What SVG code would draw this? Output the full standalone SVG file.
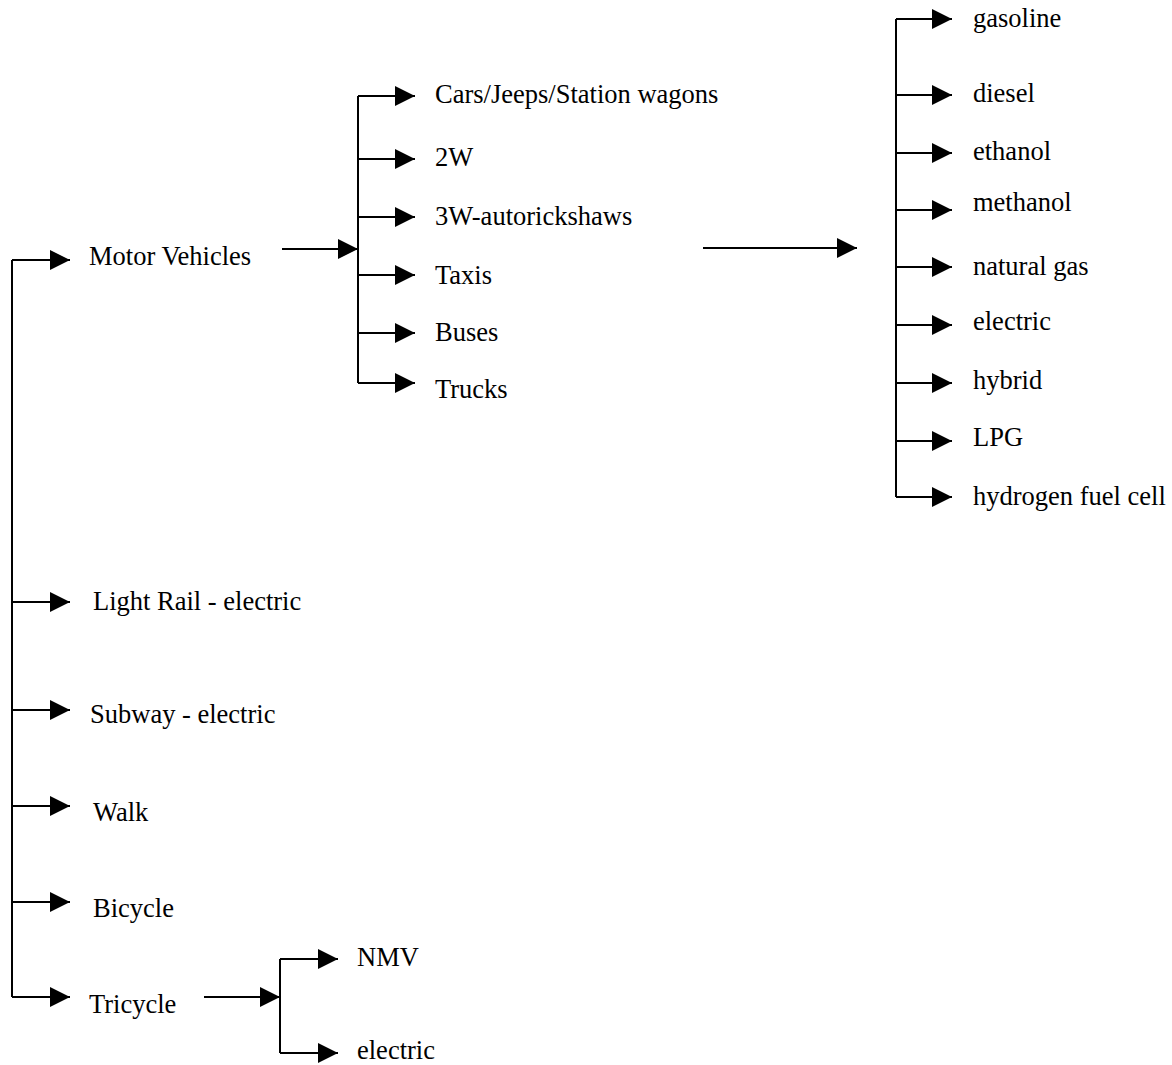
<svg xmlns="http://www.w3.org/2000/svg" width="1172" height="1065" viewBox="0 0 1172 1065">
<style>
.c{fill:none;stroke:#000;stroke-width:2}
.a{marker-end:url(#ah)}
text{font-family:"Liberation Serif","Times New Roman",serif;font-size:26.5px;fill:#000}
</style>
<defs>
<marker id="ah" viewBox="0 0 20 20" refX="20" refY="10" markerWidth="20" markerHeight="20" markerUnits="userSpaceOnUse" orient="auto">
<path d="M0,0 L20,10 L0,20 z" fill="#000"/>
</marker>
</defs>
<rect width="1172" height="1065" fill="#fff"/>
<g id="connectors">
<path class="c" d="M12,260 V997"/>
<path class="c a" d="M12,260 H70"/>
<path class="c a" d="M12,602 H70"/>
<path class="c a" d="M12,710 H70"/>
<path class="c a" d="M12,806 H70"/>
<path class="c a" d="M12,902 H70"/>
<path class="c a" d="M12,997 H70"/>
<path class="c a" d="M282,249 H358"/>
<path class="c" d="M358,96 V383"/>
<path class="c a" d="M358,96 H415"/>
<path class="c a" d="M358,159 H415"/>
<path class="c a" d="M358,217 H415"/>
<path class="c a" d="M358,275 H415"/>
<path class="c a" d="M358,333 H415"/>
<path class="c a" d="M358,383 H415"/>
<path class="c a" d="M703,248 H857"/>
<path class="c" d="M896,19 V497"/>
<path class="c a" d="M896,19 H952"/>
<path class="c a" d="M896,95 H952"/>
<path class="c a" d="M896,153 H952"/>
<path class="c a" d="M896,210 H952"/>
<path class="c a" d="M896,267 H952"/>
<path class="c a" d="M896,325 H952"/>
<path class="c a" d="M896,383 H952"/>
<path class="c a" d="M896,441 H952"/>
<path class="c a" d="M896,497 H952"/>
<path class="c a" d="M204,997 H280"/>
<path class="c" d="M280,959 V1053"/>
<path class="c a" d="M280,959 H338"/>
<path class="c a" d="M280,1053 H338"/>
</g>
<g id="motor-vehicles"><text x="89" y="265">Motor Vehicles</text></g>
<g id="light-rail"><text x="93" y="610">Light Rail - electric</text></g>
<g id="subway"><text x="90" y="723">Subway - electric</text></g>
<g id="walk"><text x="93" y="821">Walk</text></g>
<g id="bicycle"><text x="93" y="917">Bicycle</text></g>
<g id="tricycle"><text x="89" y="1013">Tricycle</text></g>
<g id="nmv"><text x="357" y="966">NMV</text></g>
<g id="tricycle-electric"><text x="357" y="1059">electric</text></g>
<g id="cars"><text x="435" y="103">Cars/Jeeps/Station wagons</text></g>
<g id="2w"><text x="435" y="166">2W</text></g>
<g id="3w"><text x="435" y="225">3W-autorickshaws</text></g>
<g id="taxis"><text x="435" y="284">Taxis</text></g>
<g id="buses"><text x="435" y="341">Buses</text></g>
<g id="trucks"><text x="435" y="398">Trucks</text></g>
<g id="gasoline"><text x="973" y="27">gasoline</text></g>
<g id="diesel"><text x="973" y="102">diesel</text></g>
<g id="ethanol"><text x="973" y="160">ethanol</text></g>
<g id="methanol"><text x="973" y="211">methanol</text></g>
<g id="natural-gas"><text x="973" y="275">natural gas</text></g>
<g id="electric"><text x="973" y="330">electric</text></g>
<g id="hybrid"><text x="973" y="389">hybrid</text></g>
<g id="lpg"><text x="973" y="446">LPG</text></g>
<g id="hydrogen"><text x="973" y="505">hydrogen fuel cell</text></g>
</svg>
